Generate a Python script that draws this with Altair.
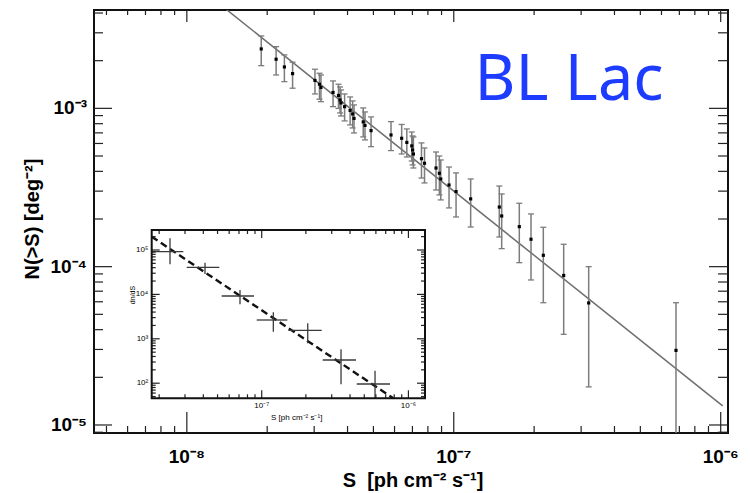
import math
import altair as alt
import pandas as pd

# ---------------- main panel: N(>S) ----------------
S = [1.90e-8, 2.16e-8, 2.32e-8, 2.49e-8, 3.02e-8, 3.14e-8, 3.18e-8, 3.53e-8, 3.70e-8, 3.75e-8,
     3.78e-8, 3.90e-8, 4.09e-8, 4.18e-8, 4.23e-8, 4.58e-8, 4.65e-8, 4.90e-8, 5.82e-8, 6.38e-8,
     6.67e-8, 6.96e-8, 7.01e-8, 7.06e-8, 7.57e-8, 7.77e-8, 8.58e-8, 8.83e-8, 8.94e-8, 9.60e-8,
     1.020e-7, 1.157e-7, 1.481e-7, 1.512e-7, 1.760e-7, 1.947e-7, 2.165e-7, 2.581e-7, 3.202e-7, 6.80e-7]
N = [2.373e-3, 2.043e-3, 1.826e-3, 1.657e-3, 1.501e-3, 1.420e-3, 1.355e-3, 1.260e-3, 1.206e-3, 1.130e-3,
     1.082e-3, 1.025e-3, 0.970e-3, 0.922e-3, 0.864e-3, 0.821e-3, 0.780e-3, 0.723e-3, 0.679e-3, 0.647e-3,
     0.609e-3, 0.579e-3, 0.546e-3, 0.515e-3, 0.481e-3, 0.450e-3, 0.420e-3, 0.389e-3, 0.358e-3, 0.328e-3,
     0.298e-3, 0.268e-3, 0.238e-3, 0.209e-3, 0.179e-3, 0.149e-3, 0.118e-3, 0.088e-3, 0.059e-3, 0.0296e-3]
N_HI = [2.866e-3, 2.453e-3, 2.175e-3, 1.956e-3, 1.766e-3, 1.666e-3, 1.625e-3, 1.490e-3, 1.420e-3, 1.365e-3,
        1.307e-3, 1.233e-3, 1.180e-3, 1.114e-3, 1.051e-3, 1.006e-3, 0.949e-3, 0.883e-3, 0.824e-3, 0.791e-3,
        0.741e-3, 0.709e-3, 0.669e-3, 0.660e-3, 0.605e-3, 0.562e-3, 0.530e-3, 0.500e-3, 0.472e-3, 0.426e-3,
        0.391e-3, 0.358e-3, 0.323e-3, 0.288e-3, 0.2515e-3, 0.2153e-3, 0.1773e-3, 0.1385e-3, 0.100e-3, 0.0592e-3]
N_LO = [1.861e-3, 1.625e-3, 1.475e-3, 1.340e-3, 1.233e-3, 1.142e-3, 1.102e-3, 1.025e-3, 0.999e-3, 0.935e-3,
        0.895e-3, 0.833e-3, 0.786e-3, 0.752e-3, 0.699e-3, 0.660e-3, 0.632e-3, 0.573e-3, 0.541e-3, 0.515e-3,
        0.493e-3, 0.465e-3, 0.439e-3, 0.420e-3, 0.363e-3, 0.338e-3, 0.305e-3, 0.284e-3, 0.264e-3, 0.235e-3,
        0.206e-3, 0.178e-3, 0.154e-3, 0.130e-3, 0.106e-3, 0.0824e-3, 0.0592e-3, 0.0374e-3, 0.0174e-3, 0.0]

# power-law fit line (end points)
FIT_S = [1.40e-8, 1.017e-6]
FIT_N = [4.24e-3, 1.32e-5]

X_DOM = [4.49e-9, 1.065e-6]
Y_DOM = [8.9e-6, 4.18e-3]
X_MAJOR = [1e-8, 1e-7, 1e-6]
X_MAJOR_LABELS = ["10⁻⁸", "10⁻⁷", "10⁻⁶"]
Y_MAJOR = [1e-5, 1e-4, 1e-3]
Y_MAJOR_LABELS = ["10⁻⁵", "10⁻⁴", "10⁻³"]
X_TITLE = "S\u00a0 [ph cm⁻² s⁻¹]"
Y_TITLE = "N(>S) [deg⁻²]"

# ---------------- inset: dn/dS ----------------
IN_S = [2.371e-8, 4.107e-8, 7.112e-8, 1.200e-7, 2.059e-7, 3.472e-7, 5.920e-7]
IN_S_LO = [1.779e-8, 3.082e-8, 5.336e-8, 9.245e-8, 1.518e-7, 2.604e-7, 4.442e-7]
IN_S_HI = [2.922e-8, 5.140e-8, 8.862e-8, 1.495e-7, 2.564e-7, 4.393e-7, 7.491e-7]
IN_DN = [9.157e4, 4.077e4, 9.204e3, 2.651e3, 1.554e3, 333.0, 95.9]
IN_DN_HI = [1.834e5, 5.176e4, 1.256e4, 3.953e3, 2.234e3, 580.0, 191.2]
IN_DN_LO = [4.764e4, 2.881e4, 5.984e3, 1.445e3, 791.8, 94.5, 0.0]

IN_FIT_S = [1.779e-8, 7.889e-7]
IN_FIT_DN = [1.993e5, 45.7]

IN_X_DOM = [1.779e-8, 1.297e-6]
IN_Y_DOM = [45.7, 2.822e5]
IN_X_MAJOR = [1e-7, 1e-6]
IN_X_LABELS = ["10⁻⁷", "10⁻⁶"]
IN_Y_MAJOR = [1e2, 1e3, 1e4, 1e5]
IN_Y_LABELS = ["10²", "10³", "10⁴", "10⁵"]
IN_X_TITLE = "S [ph cm⁻² s⁻¹]"
IN_Y_TITLE = "dn/dS"

# ---------------- layout ----------------
W, H = 634, 423
IN_BOX = (57.7, 331.0, 220.0, 388.3)  # left, right, top, bottom of inset inside plot area
FONT = "Liberation Sans"


def minor(dom):
    out = []
    for e in range(math.floor(math.log10(dom[0])), math.ceil(math.log10(dom[1])) + 1):
        for m in range(2, 10):
            v = m * 10.0 ** e
            if dom[0] < v < dom[1]:
                out.append(v)
    return out


def ticks(vals, side, box, length, xs=None, ys=None, color="#222", width=1.2):
    left, right, top, bottom = box
    m = alt.Chart(pd.DataFrame({"v": vals})).mark_rule(color=color, strokeWidth=width)
    if side in ("bottom", "top"):
        y0 = bottom if side == "bottom" else top
        y1 = y0 - length if side == "bottom" else y0 + length
        return m.encode(x=alt.X("v:Q", scale=xs, axis=None), y=alt.value(y0), y2=alt.value(y1))
    x0 = left if side == "left" else right
    x1 = x0 + length if side == "left" else x0 - length
    return m.encode(y=alt.Y("v:Q", scale=ys, axis=None), x=alt.value(x0), x2=alt.value(x1))


def xlabels(vals, labels, xs, ypix, size, weight, baseline):
    return alt.Chart(pd.DataFrame({"v": vals, "t": labels})).mark_text(
        font=FONT, fontSize=size, fontWeight=weight, color="black", align="center", baseline=baseline).encode(
        x=alt.X("v:Q", scale=xs, axis=None), y=alt.value(ypix), text="t:N")


def ylabels(vals, labels, ys, xpix, size, weight):
    return alt.Chart(pd.DataFrame({"v": vals, "t": labels})).mark_text(
        font=FONT, fontSize=size, fontWeight=weight, color="black", align="right", baseline="middle").encode(
        y=alt.Y("v:Q", scale=ys, axis=None), x=alt.value(xpix), text="t:N")


def title(text, xpix, ypix, size, weight, angle=0):
    return alt.Chart(pd.DataFrame({"t": [text]})).mark_text(
        font=FONT, fontSize=size, fontWeight=weight, color="black", align="center",
        baseline="middle", angle=angle).encode(x=alt.value(xpix), y=alt.value(ypix), text="t:N")


# ---------------- main layer ----------------
xs = alt.Scale(type="log", domain=X_DOM, nice=False)
ys = alt.Scale(type="log", domain=Y_DOM, nice=False)

df = pd.DataFrame({"S": S, "N": N, "hi": N_HI, "lo": N_LO})
BAR = "#7c7c7c"

fit = alt.Chart(pd.DataFrame({"S": FIT_S, "N": FIT_N})).mark_line(
    color="#6e6e6e", strokeWidth=1.5, clip=True).encode(
    x=alt.X("S:Q", scale=xs, axis=None), y=alt.Y("N:Q", scale=ys, axis=None))

bars = alt.Chart(df).transform_calculate(lo_c=f"max(datum.lo, {Y_DOM[0]})").mark_rule(
    color=BAR, strokeWidth=1.5, clip=True).encode(
    x=alt.X("S:Q", scale=xs, axis=None), y=alt.Y("lo_c:Q", scale=ys, axis=None), y2="hi:Q")

cap_hi = alt.Chart(df).mark_tick(orient="horizontal", size=6, thickness=1.3, color=BAR, opacity=1).encode(
    x=alt.X("S:Q", scale=xs, axis=None), y=alt.Y("hi:Q", scale=ys, axis=None))
cap_lo = alt.Chart(df).transform_filter(f"datum.lo >= {Y_DOM[0]}").mark_tick(
    orient="horizontal", size=6, thickness=1.3, color=BAR, opacity=1).encode(
    x=alt.X("S:Q", scale=xs, axis=None), y=alt.Y("lo:Q", scale=ys, axis=None))

pts = alt.Chart(df).mark_square(size=10, color="black", opacity=1).encode(
    x=alt.X("S:Q", scale=xs, axis=None), y=alt.Y("N:Q", scale=ys, axis=None))

MBOX = (0, W, 0, H)
xmin, ymin = minor(X_DOM), minor(Y_DOM)
main_ticks = [
    ticks(X_MAJOR, "bottom", MBOX, 21, xs=xs), ticks(xmin, "bottom", MBOX, 7, xs=xs),
    ticks(X_MAJOR, "top", MBOX, 12, xs=xs), ticks(xmin, "top", MBOX, 5, xs=xs),
    ticks(Y_MAJOR, "left", MBOX, 18, ys=ys), ticks(ymin, "left", MBOX, 9, ys=ys),
    ticks(Y_MAJOR, "right", MBOX, 19, ys=ys), ticks(ymin, "right", MBOX, 10, ys=ys),
]
main_text = [
    xlabels(X_MAJOR, X_MAJOR_LABELS, xs, H + 30, 19, "bold", "alphabetic"),
    ylabels(Y_MAJOR, Y_MAJOR_LABELS, ys, -7, 19, "bold"),
    title(X_TITLE, 319, H + 48, 20, "bold"),
    title(Y_TITLE, -61, 209, 20, "bold", angle=270),
]

label = alt.Chart(pd.DataFrame({"t": ["BL Lac"]})).mark_text(
    font="Noto Sans", fontSize=63, color="#1d3cff", align="center", baseline="alphabetic").encode(
    text="t:N", x=alt.value(475), y=alt.value(90))

main = alt.layer(fit, bars, cap_hi, cap_lo, pts, *main_ticks, *main_text, label)

# ---------------- inset layer ----------------
ixs = alt.Scale(type="log", domain=IN_X_DOM, nice=False, range=[IN_BOX[0], IN_BOX[1]])
iys = alt.Scale(type="log", domain=IN_Y_DOM, nice=False, range=[IN_BOX[3], IN_BOX[2]])

frame_df = pd.DataFrame({"x0": [IN_X_DOM[0]], "x1": [IN_X_DOM[1]], "y0": [IN_Y_DOM[0]], "y1": [IN_Y_DOM[1]]})
in_bg = alt.Chart(frame_df).mark_rect(fill="white").encode(
    x=alt.X("x0:Q", scale=ixs, axis=None), x2="x1:Q",
    y=alt.Y("y0:Q", scale=iys, axis=None), y2="y1:Q")
in_frame = alt.Chart(frame_df).mark_rect(fillOpacity=0, stroke="#111", strokeWidth=2).encode(
    x=alt.X("x0:Q", scale=ixs, axis=None), x2="x1:Q",
    y=alt.Y("y0:Q", scale=iys, axis=None), y2="y1:Q")

idf = pd.DataFrame({"S": IN_S, "slo": IN_S_LO, "shi": IN_S_HI, "dn": IN_DN, "hi": IN_DN_HI, "lo": IN_DN_LO})
IBAR = "#3a3a3a"
in_h = alt.Chart(idf).mark_rule(color=IBAR, strokeWidth=1.3).encode(
    x=alt.X("slo:Q", scale=ixs, axis=None), x2="shi:Q", y=alt.Y("dn:Q", scale=iys, axis=None))
in_v = alt.Chart(idf).transform_calculate(lo_c=f"max(datum.lo, {IN_Y_DOM[0]})").mark_rule(
    color=IBAR, strokeWidth=1.3).encode(
    x=alt.X("S:Q", scale=ixs, axis=None), y=alt.Y("lo_c:Q", scale=iys, axis=None), y2="hi:Q")
in_fit = alt.Chart(pd.DataFrame({"S": IN_FIT_S, "dn": IN_FIT_DN})).mark_line(
    color="#111", strokeWidth=2.4, strokeDash=[7, 4]).encode(
    x=alt.X("S:Q", scale=ixs, axis=None), y=alt.Y("dn:Q", scale=iys, axis=None))

ixmin, iymin = minor(IN_X_DOM), minor(IN_Y_DOM)
in_ticks = [
    ticks(IN_X_MAJOR, "bottom", IN_BOX, 8, xs=ixs), ticks(ixmin, "bottom", IN_BOX, 4, xs=ixs),
    ticks(IN_X_MAJOR, "top", IN_BOX, 8, xs=ixs), ticks(ixmin, "top", IN_BOX, 4, xs=ixs),
    ticks(IN_Y_MAJOR, "left", IN_BOX, 8, ys=iys), ticks(iymin, "left", IN_BOX, 4, ys=iys),
    ticks(IN_Y_MAJOR, "right", IN_BOX, 8, ys=iys), ticks(iymin, "right", IN_BOX, 4, ys=iys),
]
in_text = [
    xlabels(IN_X_MAJOR, IN_X_LABELS, ixs, IN_BOX[3] + 4, 8, "normal", "top"),
    ylabels(IN_Y_MAJOR, IN_Y_LABELS, iys, IN_BOX[0] - 3.5, 8, "normal"),
    title(IN_X_TITLE, 202.7, IN_BOX[3] + 20, 8, "normal"),
    title(IN_Y_TITLE, IN_BOX[0] - 18.7, 285, 7, "normal", angle=270),
]

inset = alt.layer(in_bg, in_fit, in_h, in_v, *in_ticks, in_frame, *in_text)

chart = alt.layer(main, inset).resolve_scale(x="independent", y="independent").properties(
    width=W, height=H,
    autosize=alt.AutoSizeParams(type="none"),
    padding={"left": 86, "top": 2, "right": 14, "bottom": 58},
    background="white",
).configure_view(stroke="#111", strokeWidth=2)

chart.save("out.html", embed_options={"renderer": "svg", "actions": False})
